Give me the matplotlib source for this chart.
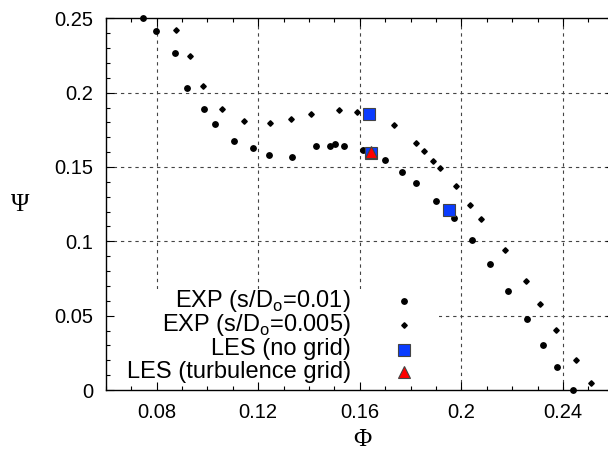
import matplotlib
matplotlib.use("Agg")
import matplotlib.pyplot as plt
from matplotlib.patches import Rectangle
from matplotlib.ticker import MultipleLocator

plt.rcParams['font.family'] = ['Liberation Sans', 'DejaVu Sans']
plt.rcParams['mathtext.fontset'] = 'custom'
plt.rcParams['mathtext.rm'] = 'Liberation Sans'

# EXP (s/Do=0.01)
exp1_phi = [0.0745, 0.0797, 0.0872, 0.0920, 0.0986, 0.1030, 0.1104, 0.1179, 0.1243,
            0.1334, 0.1426, 0.1481, 0.1502, 0.1539, 0.1612, 0.1699, 0.1766, 0.1822,
            0.1900, 0.1972, 0.2043, 0.2111, 0.2183, 0.2257, 0.2322, 0.2377, 0.2439]
exp1_psi = [0.2500, 0.2413, 0.2269, 0.2033, 0.1889, 0.1791, 0.1675, 0.1628, 0.1579,
            0.1567, 0.1643, 0.1641, 0.1655, 0.1641, 0.1614, 0.1547, 0.1466, 0.1390,
            0.1271, 0.1155, 0.1007, 0.0847, 0.0666, 0.0478, 0.0301, 0.0153, 0.0002]
# EXP (s/Do=0.005)
exp2_phi = [0.0875, 0.0931, 0.0981, 0.1058, 0.1145, 0.1245, 0.1328, 0.1407, 0.1519,
            0.1589, 0.1733, 0.1821, 0.1852, 0.1887, 0.1914, 0.1977, 0.2034, 0.2078,
            0.2170, 0.2253, 0.2310, 0.2373, 0.2452, 0.2510]
exp2_psi = [0.2421, 0.2246, 0.2043, 0.1889, 0.1809, 0.1796, 0.1821, 0.1854, 0.1881,
            0.1868, 0.1780, 0.1659, 0.1610, 0.1542, 0.1495, 0.1372, 0.1246, 0.1147,
            0.0940, 0.0731, 0.0578, 0.0406, 0.0202, 0.0047]
# LES
les_nogrid_phi = [0.1637, 0.1644, 0.1950]
les_nogrid_psi = [0.1856, 0.1592, 0.1214]
les_turb_phi = [0.1646]
les_turb_psi = [0.1601]

labels = ['EXP (s/D$_{\\mathrm{o}}$=0.01)', 'EXP (s/D$_{\\mathrm{o}}$=0.005)',
          'LES (no grid)', 'LES (turbulence grid)']
xticks = [0.08, 0.12, 0.16, 0.2, 0.24]
xticklabels = ['0.08', '0.12', '0.16', '0.2', '0.24']
yticks = [0, 0.05, 0.1, 0.15, 0.2, 0.25]
yticklabels = ['0', '0.05', '0.1', '0.15', '0.2', '0.25']

fig = plt.figure(figsize=(6.08, 4.63), dpi=100)
ax = fig.add_axes([105.7/608, 73/463, 508.2/608, 371.7/463])
ax.set_xlim(0.06, 0.26)
ax.set_ylim(0, 0.25)

# grid lines
gkw = dict(color='#444444', lw=0.8, ls=(0, (3, 3.5)), zorder=1)
for v in xticks:
    ax.axvline(v, **gkw)
for v in yticks[1:-1]:
    ax.axhline(v, **gkw)

# opaque key box
ax.add_patch(Rectangle((0, 0), 0.656, 0.272, transform=ax.transAxes,
                       facecolor='white', edgecolor='none', zorder=1.5))

ms_s = dict(marker='s', ms=8.6, mfc='#0a3cff', mec='#444444', mew=0.8, ls='none', zorder=4)
ms_t = dict(marker='^', ms=8.4, mfc='#ff0000', mec='#444444', mew=0.8, ls='none', zorder=5)
ms_c = dict(marker='o', ms=3.9, color='black', ls='none', zorder=3)
ms_d = dict(marker='D', ms=2.8, color='black', ls='none', zorder=3)

ax.plot(exp1_phi, exp1_psi, clip_on=False, **ms_c)
ax.plot(exp2_phi, exp2_psi, clip_on=False, **ms_d)
ax.plot(les_nogrid_phi, les_nogrid_psi, **ms_s)
ax.plot(les_turb_phi, les_turb_psi, **ms_t)

# key
fs_key = 17
rows_y = [300.5, 325, 349.5, 372]
for lab, yp, mk in zip(labels, rows_y, [ms_c, ms_d, ms_s, ms_t]):
    ya = (390 - yp) / 371.7
    ax.text((351 - 105.7) / 508.2, ya, lab, transform=ax.transAxes, ha='right',
            va='center', fontsize=fs_key, zorder=6)
    ax.plot([(404 - 105.7) / 508.2], [ya], transform=ax.transAxes, clip_on=False,
            **{**mk, 'zorder': 6})

ax.set_xticks(xticks)
ax.set_xticklabels(xticklabels)
ax.set_yticks(yticks)
ax.set_yticklabels(yticklabels)
ax.xaxis.set_minor_locator(MultipleLocator(0.01))
ax.yaxis.set_minor_locator(MultipleLocator(0.01))
ax.tick_params(which='both', direction='in', top=True, right=True, labelsize=14.5,
               width=0.8, colors='black')
ax.tick_params(which='major', length=6)
ax.tick_params(which='minor', length=3)
ax.tick_params(axis='x', which='major', pad=9)
ax.tick_params(axis='y', which='major', pad=9)
for s in ax.spines.values():
    s.set_linewidth(1.0)
    s.set_zorder(7)

fig.text(362/608, 1 - 440/463, 'Φ', ha='center', va='center', fontsize=18,
         family=['Liberation Serif', 'DejaVu Serif'])
fig.text(20/608, 1 - 205/463, 'Ψ', ha='center', va='center', fontsize=18,
         family=['Liberation Serif', 'DejaVu Serif'])

fig.savefig('out.png', dpi=100)
